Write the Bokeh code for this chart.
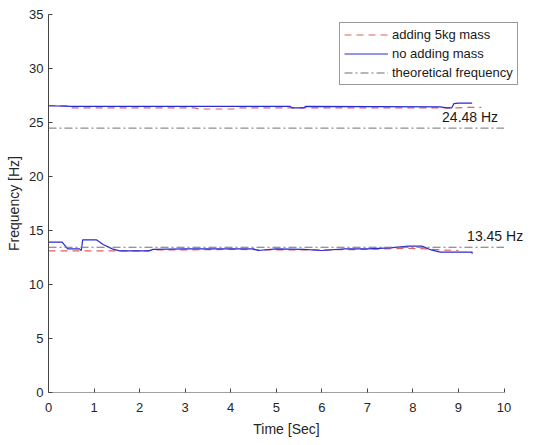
from bokeh.plotting import figure
from bokeh.models import Legend, LegendItem, Label, FixedTicker, Range1d
from bokeh.embed import file_html
from bokeh.resources import INLINE

# Upper mode (around 26.5 Hz)
t_up_mass = [0, 0.45, 0.5, 3.2, 3.3, 4.1, 4.2, 9.0, 9.2, 9.5]
f_up_mass = [26.55, 26.55, 26.35, 26.35, 26.25, 26.25, 26.35, 26.35, 26.4, 26.4]
t_up_nomass = [0, 0.5, 5.3, 5.35, 5.6, 5.65, 8.6, 8.75, 8.85, 8.9, 9.0, 9.3]
f_up_nomass = [26.55, 26.5, 26.5, 26.35, 26.35, 26.5, 26.45, 26.35, 26.35, 26.75, 26.8, 26.8]

# Lower mode (around 13.3 Hz)
t_lo_mass = [0, 1.5, 2.2, 2.3, 3.0, 4.0, 5.0, 6.0, 7.0, 7.9, 8.3, 8.6, 9.0]
f_lo_mass = [13.12, 13.12, 13.12, 13.2, 13.2, 13.25, 13.2, 13.2, 13.25, 13.35, 13.3, 13.2, 13.15]
t_lo_nomass = [0, 0.3, 0.42, 0.68, 0.72, 0.75, 1.05, 1.2, 1.4, 1.56, 2.2, 2.3, 3.0, 4.5, 4.6, 5.0,
               5.6, 6.0, 6.5, 7.0, 7.5, 7.9, 8.2, 8.4, 8.6, 9.0, 9.3, 9.3]
f_lo_nomass = [13.92, 13.92, 13.3, 13.3, 13.15, 14.14, 14.14, 13.7, 13.3, 13.12, 13.12, 13.25, 13.3, 13.3, 13.15, 13.3,
               13.25, 13.15, 13.3, 13.3, 13.4, 13.55, 13.55, 13.2, 13.0, 13.0, 13.0, 12.85]

# Theoretical frequencies
theory = [24.48, 13.45]
theory_labels = ["24.48 Hz", "13.45 Hz"]
theory_label_x = [8.64, 9.19]
x_ticks = list(range(0, 11))
y_ticks = [0, 5, 10, 15, 20, 25, 30, 35]
x_min, x_max = x_ticks[0], x_ticks[-1]

FONT = "Liberation Sans"

p = figure(width=534, height=436, output_backend="svg", toolbar_location=None,
           x_range=Range1d(0, 10.45), y_range=Range1d(0, 35),
           frame_width=476, frame_height=378,
           min_border_left=48, min_border_right=10, min_border_top=14, min_border_bottom=44)
p.outline_line_color = None
p.grid.visible = False
p.background_fill_color = "white"

red = "#e06060"
blue = "#2a2ad2"
gray = "#707070"
axis_col = "#444444"

# x axis line drawn only over 0..10
p.line([x_min, x_max], [0, 0], line_color=axis_col, line_width=1)

r_red = p.line(t_up_mass, f_up_mass, line_color=red, line_dash="7 5", line_width=1.2)
p.line(t_lo_mass, f_lo_mass, line_color=red, line_dash="7 5", line_width=1.2)
r_blue = p.line(t_up_nomass, f_up_nomass, line_color=blue, line_width=1.2)
p.line(t_lo_nomass, f_lo_nomass, line_color=blue, line_width=1.2)
r_gray = None
for f in theory:
    r = p.line([x_min, x_max], [f, f], line_color=gray, line_dash="8 3 2 3", line_width=1)
    if r_gray is None:
        r_gray = r

for f, lab, lx in zip(theory, theory_labels, theory_label_x):
    p.add_layout(Label(x=lx, y=f, text=lab, x_offset=0, y_offset=3, text_font=FONT,
                       text_font_size="14px", text_color="#1a1a1a"))

for ax in (p.xaxis[0], p.yaxis[0]):
    ax.major_tick_in = 4
    ax.major_tick_out = 0
    ax.minor_tick_line_color = None
    ax.major_tick_line_color = axis_col
    ax.major_label_text_font = FONT
    ax.major_label_text_font_size = "13px"
    ax.major_label_text_color = "#262626"
    ax.axis_label_text_font = FONT
    ax.axis_label_text_font_size = "14px"
    ax.axis_label_text_font_style = "normal"
    ax.axis_label_text_color = "#262626"

p.xaxis.axis_line_color = None
p.yaxis.axis_line_color = axis_col
p.xaxis.ticker = FixedTicker(ticks=x_ticks)
p.yaxis.ticker = FixedTicker(ticks=y_ticks)
p.xaxis.axis_label = "Time [Sec]"
p.yaxis.axis_label = "Frequency [Hz]"
p.xaxis.major_label_standoff = 10
p.yaxis.major_label_standoff = 5
p.xaxis.axis_label_standoff = 6
p.yaxis.axis_label_standoff = 4

legend = Legend(items=[
    LegendItem(label="adding 5kg mass", renderers=[r_red]),
    LegendItem(label="no adding mass", renderers=[r_blue]),
    LegendItem(label="theoretical frequency", renderers=[r_gray]),
], location=(291, 307))
legend.label_text_font = FONT
legend.label_text_font_size = "13px"
legend.label_text_color = "#1a1a1a"
legend.glyph_width = 44
legend.glyph_height = 15
legend.label_height = 15
legend.spacing = 4
legend.padding = 4
legend.margin = 0
legend.label_standoff = 4
legend.border_line_color = "#333333"
legend.border_line_width = 1
legend.background_fill_alpha = 1
p.add_layout(legend, "center")

open("out.html", "w").write(file_html(p, INLINE))
